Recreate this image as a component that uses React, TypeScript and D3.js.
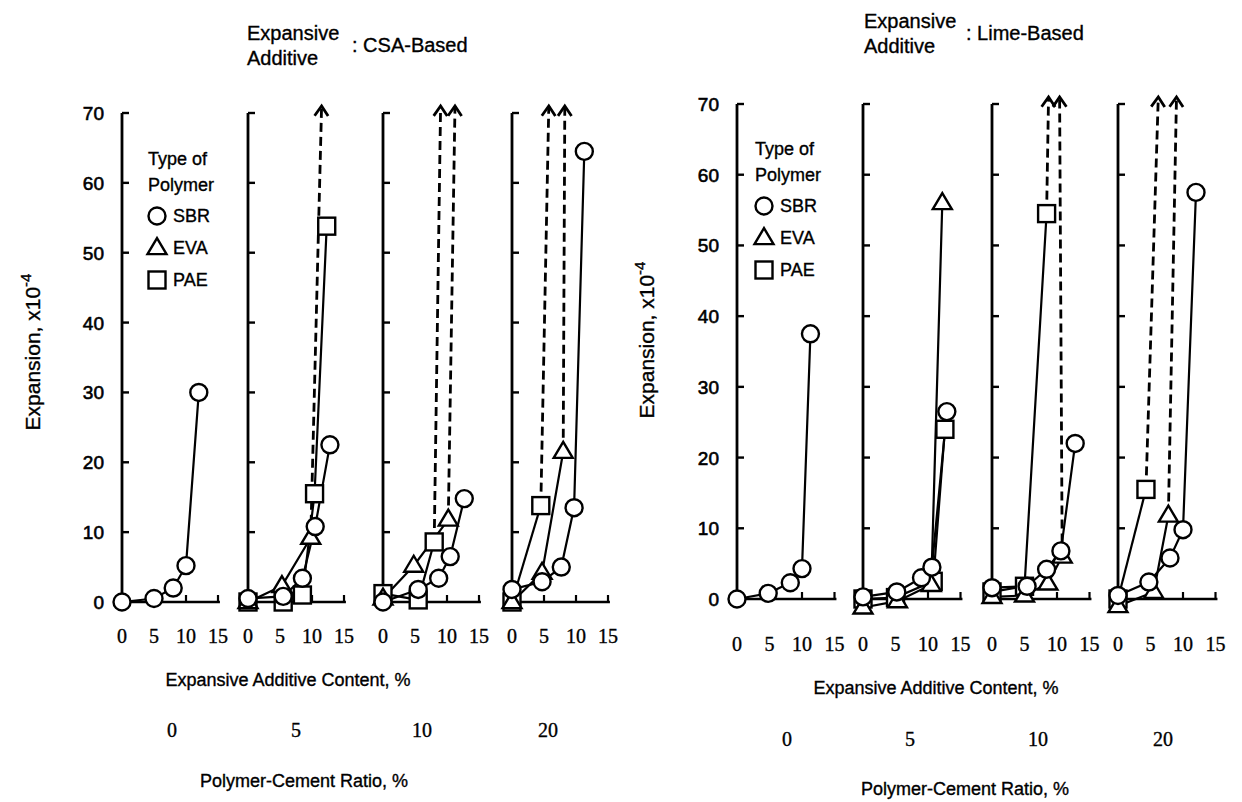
import React from "react";
import * as d3 from "d3";

// ---------- data ----------
const polymerRatios = ["0", "5", "10", "20"];
const xTickValues = [0, 5, 10, 15];
const yTickValues = [0, 10, 20, 30, 40, 50, 60, 70];
const legendNames = ["SBR", "EVA", "PAE"];

// CSA-based expansive additive  [additive content %, expansion x10^-4]
const csa0_SBR = [[0, 0], [5, 0.5], [8, 2], [10, 5.2], [12, 30]];
const csa5_SBR = [[0, 0.5], [5.5, 0.8], [8.5, 3.4], [10.5, 10.8], [12.8, 22.5]];
const csa5_EVA = [[0, 0], [5.3, 2.3], [9.8, 9.2]];
const csa5_PAE = [[0, 0], [5.5, 0], [8.5, 1], [10.4, 15.5], [12.3, 53.8]];
const csa10_SBR = [[0, 0], [5.5, 1.8], [8.7, 3.4], [10.5, 6.5], [12.7, 14.8]];
const csa10_EVA = [[0, 0.5], [4.8, 5.2], [10.2, 11.8]];
const csa10_PAE = [[0, 1.2], [5.5, 0.3], [8, 8.6]];
const csa20_SBR = [[0, 1.8], [4.7, 2.9], [7.7, 5], [9.7, 13.5], [11.3, 64.5]];
const csa20_EVA = [[0, 0], [4.7, 4.2], [8, 21.5]];
const csa20_PAE = [[0, 0], [4.5, 13.8]];
// dashed "beyond 70" arrows: [from, to]
const csa5_arrows = [[[9.8, 9.2], [11.5, 71]]];
const csa10_arrows = [[[8, 8.6], [9, 71]], [[10.2, 11.8], [11.25, 71]]];
const csa20_arrows = [[[4.5, 13.8], [5.75, 71]], [[8, 21.5], [8.25, 71]]];

// Lime-based expansive additive
const lime0_SBR = [[0, 0], [4.8, 0.8], [8.2, 2.3], [10, 4.3], [11.3, 37.5]];
const lime5_SBR = [[0, 0.3], [5.2, 1], [9, 3], [10.6, 4.5], [12.9, 26.5]];
const lime5_EVA = [[0, -1.2], [5.3, -0.3], [10.5, 2], [12.2, 56]];
const lime5_PAE = [[0, 0], [5, 0.2], [10.8, 2.5], [12.6, 24]];
const lime10_SBR = [[0, 1.6], [5.4, 1.8], [8.4, 4.2], [10.6, 6.8], [12.8, 22]];
const lime10_EVA = [[0, 0.3], [5, 0.5], [8.6, 2.2], [10.8, 6]];
const lime10_PAE = [[0, 1], [5, 1.8], [8.4, 54.5]];
const lime20_SBR = [[0, 0.5], [4.75, 2.4], [8, 5.8], [10, 9.8], [12, 57.5]];
const lime20_EVA = [[0, -1], [5.5, 1], [7.75, 11.8]];
const lime20_PAE = [[0, 0], [4.3, 15.5]];
const lime10_arrows = [[[8.4, 54.5], [8.7, 71]], [[10.8, 6], [10.4, 71]]];
const lime20_arrows = [[[4.3, 15.5], [6.2, 71]], [[7.75, 11.8], [9, 71]]];

type Pt = number[];
type Group = { SBR?: Pt[]; EVA?: Pt[]; PAE?: Pt[]; arrows?: Pt[][] };

const csaGroups: Group[] = [
  { SBR: csa0_SBR },
  { SBR: csa5_SBR, EVA: csa5_EVA, PAE: csa5_PAE, arrows: csa5_arrows },
  { SBR: csa10_SBR, EVA: csa10_EVA, PAE: csa10_PAE, arrows: csa10_arrows },
  { SBR: csa20_SBR, EVA: csa20_EVA, PAE: csa20_PAE, arrows: csa20_arrows },
];
const limeGroups: Group[] = [
  { SBR: lime0_SBR },
  { SBR: lime5_SBR, EVA: lime5_EVA, PAE: lime5_PAE },
  { SBR: lime10_SBR, EVA: lime10_EVA, PAE: lime10_PAE, arrows: lime10_arrows },
  { SBR: lime20_SBR, EVA: lime20_EVA, PAE: lime20_PAE, arrows: lime20_arrows },
];

// ---------- drawing helpers ----------
const SANS = "'Liberation Sans', Arial, Helvetica, sans-serif";
const SERIF = "'Liberation Serif', 'Times New Roman', serif";
const ink = { fill: "#000", stroke: "#000", strokeWidth: 0.35 };

function Marker({ kind, x, y }: { kind: string; x: number; y: number }) {
  if (kind === "SBR")
    return <circle cx={x} cy={y} r={8.5} fill="#fff" stroke="#000" strokeWidth={2.4} />;
  if (kind === "EVA") {
    const s = 19, h = 16;
    const p = `M${x},${y - h * 0.62}L${x + s / 2},${y + h * 0.38}L${x - s / 2},${y + h * 0.38}Z`;
    return <path d={p} fill="#fff" stroke="#000" strokeWidth={2.4} strokeLinejoin="miter" />;
  }
  return <rect x={x - 8.5} y={y - 8.5} width={17} height={17} fill="#fff" stroke="#000" strokeWidth={2.4} />;
}

function Panel({
  groups, axisXs, y0, y70, xPer, suffix, titleX, titleY, suffixX,
  yTitleX, yTitleY, contentX, contentY, ratioXs, ratioY, pcrX, pcrY, legendX, legendY,
}: any) {
  const yScale = d3.scaleLinear().domain([0, 70]).range([y0, y70]);
  const order = ["PAE", "EVA", "SBR"];
  return (
    <g>
      {/* title */}
      <text x={titleX} y={titleY} fontFamily={SANS} fontSize={20} {...ink}>Expansive</text>
      <text x={titleX} y={titleY + 25} fontFamily={SANS} fontSize={20} {...ink}>Additive</text>
      <text x={suffixX} y={titleY + 12} fontFamily={SANS} fontSize={20} {...ink}>{":  " + suffix}</text>
      {/* y title */}
      <text transform={`translate(${yTitleX},${yTitleY}) rotate(-90)`} textAnchor="middle"
        fontFamily={SANS} fontSize={21} {...ink}>
        Expansion,  x10<tspan dy={-9} fontSize={15}>-4</tspan>
      </text>
      {/* y tick labels */}
      {yTickValues.map((v) => (
        <text key={v} x={axisXs[0] - 18} y={yScale(v) + 7} textAnchor="end"
          fontFamily={SANS} fontSize={19} fill="#000" stroke="#000" strokeWidth={0.6}>{v}</text>
      ))}
      {groups.map((g: Group, i: number) => {
        const ax = axisXs[i];
        const xScale = d3.scaleLinear().domain([0, 15]).range([ax, ax + 15 * xPer]);
        const line = d3.line<Pt>().x((d) => xScale(d[0])).y((d) => yScale(d[1]));
        return (
          <g key={i}>
            {/* axes */}
            <line x1={ax} y1={yScale(0) + 1} x2={ax} y2={yScale(70)} stroke="#000" strokeWidth={2.8} />
            {yTickValues.map((v) => (
              <line key={v} x1={ax} x2={ax + 7} y1={yScale(v)} y2={yScale(v)} stroke="#000" strokeWidth={2.4} />
            ))}
            <line x1={ax} x2={xScale(15.3)} y1={yScale(0)} y2={yScale(0)} stroke="#000" strokeWidth={2.6} />
            {xTickValues.slice(1).map((v) => (
              <line key={v} x1={xScale(v)} x2={xScale(v)} y1={yScale(0)} y2={yScale(0) - 7} stroke="#000" strokeWidth={2.2} />
            ))}
            {xTickValues.map((v) => (
              <text key={v} x={xScale(v)} y={contentY - 43} textAnchor="middle"
                fontFamily={SERIF} fontSize={20} {...ink}>{v}</text>
            ))}
            {/* dashed arrows */}
            {(g.arrows || []).map((a, k) => {
              const x1 = xScale(a[0][0]), y1 = yScale(a[0][1]);
              const x2 = xScale(a[1][0]), y2 = yScale(a[1][1]);
              const ang = Math.atan2(y2 - y1, x2 - x1);
              const L = 12, w = 0.6;
              const p1 = [x2 - L * Math.cos(ang - w), y2 - L * Math.sin(ang - w)];
              const p2 = [x2 - L * Math.cos(ang + w), y2 - L * Math.sin(ang + w)];
              return (
                <g key={k}>
                  <line x1={x1} y1={y1} x2={x2} y2={y2} stroke="#000" strokeWidth={2.8} strokeDasharray="9 5" />
                  <path d={`M${p1[0]},${p1[1]}L${x2},${y2}L${p2[0]},${p2[1]}`} fill="none" stroke="#000" strokeWidth={2.8} />
                </g>
              );
            })}
            {/* lines */}
            {order.map((k) => {
              const d = (g as any)[k] as Pt[] | undefined;
              return d ? <path key={k} d={line(d) || ""} fill="none" stroke="#000" strokeWidth={2.2} /> : null;
            })}
            {/* markers */}
            {order.map((k) => {
              const d = (g as any)[k] as Pt[] | undefined;
              return d ? d.map((p, j) => <Marker key={k + j} kind={k} x={xScale(p[0])} y={yScale(p[1])} />) : null;
            })}
          </g>
        );
      })}
      {/* legend */}
      <text x={legendX} y={legendY} fontFamily={SANS} fontSize={18} {...ink}>Type of</text>
      <text x={legendX} y={legendY + 26} fontFamily={SANS} fontSize={18} {...ink}>Polymer</text>
      {legendNames.map((n, i) => (
        <g key={n}>
          <Marker kind={n} x={legendX + 9} y={legendY + 51 + i * 32} />
          <text x={legendX + 25} y={legendY + 57 + i * 32} fontFamily={SANS} fontSize={18} {...ink}>{n}</text>
        </g>
      ))}
      {/* bottom labels */}
      <text x={contentX} y={contentY} textAnchor="middle" fontFamily={SANS} fontSize={18} {...ink}>
        Expansive Additive Content, %
      </text>
      {polymerRatios.map((r, i) => (
        <text key={r} x={ratioXs[i]} y={ratioY} textAnchor="middle" fontFamily={SERIF} fontSize={20} {...ink}>{r}</text>
      ))}
      <text x={pcrX} y={pcrY} textAnchor="middle" fontFamily={SANS} fontSize={18} {...ink}>
        Polymer-Cement Ratio, %
      </text>
    </g>
  );
}

export default function App() {
  return (
    <svg width={1242} height={802} style={{ position: "absolute", left: 0, top: 0, background: "#fff" }}>
      <rect width={1242} height={802} fill="#fff" />
      <Panel groups={csaGroups} axisXs={[122, 248, 383, 512]} y0={602} y70={113} xPer={6.4}
        suffix="CSA-Based" titleX={247} titleY={40} suffixX={352}
        yTitleX={40} yTitleY={352} contentX={288} contentY={686}
        ratioXs={[172, 296, 422, 548]} ratioY={737} pcrX={304} pcrY={787}
        legendX={148} legendY={165} />
      <Panel groups={limeGroups} axisXs={[737, 863, 992, 1118]} y0={599} y70={104} xPer={6.5}
        suffix="Lime-Based" titleX={864} titleY={28} suffixX={966}
        yTitleX={654} yTitleY={340} contentX={936} contentY={694}
        ratioXs={[787, 910, 1038, 1163]} ratioY={746} pcrX={965} pcrY={795}
        legendX={755} legendY={155} />
    </svg>
  );
}
